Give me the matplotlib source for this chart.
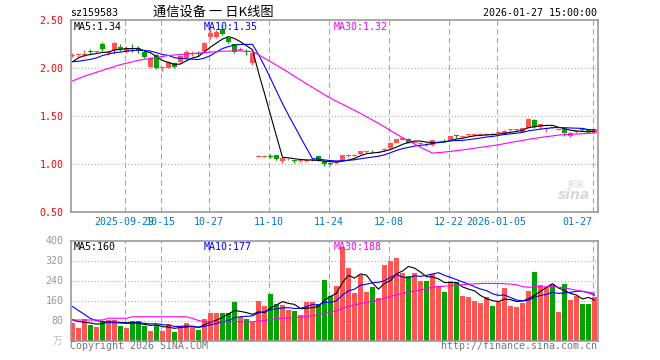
import numpy as np
import pandas as pd
import matplotlib
matplotlib.use("Agg")
import matplotlib.pyplot as plt

# ---------------- data ----------------
dates = [
    "2025-09-16", "2025-09-17", "2025-09-18", "2025-09-19", "2025-09-22", "2025-09-23", "2025-09-24",
    "2025-09-25", "2025-09-26", "2025-09-29", "2025-09-30",
    "2025-10-09", "2025-10-10", "2025-10-13", "2025-10-14", "2025-10-15", "2025-10-16", "2025-10-17",
    "2025-10-20", "2025-10-21", "2025-10-22", "2025-10-23", "2025-10-24", "2025-10-27", "2025-10-28",
    "2025-10-29", "2025-10-30", "2025-10-31",
    "2025-11-03", "2025-11-04", "2025-11-05", "2025-11-06", "2025-11-07", "2025-11-10", "2025-11-11",
    "2025-11-12", "2025-11-13", "2025-11-14", "2025-11-17", "2025-11-18", "2025-11-19", "2025-11-20",
    "2025-11-21", "2025-11-24", "2025-11-25", "2025-11-26", "2025-11-27", "2025-11-28",
    "2025-12-01", "2025-12-02", "2025-12-03", "2025-12-04", "2025-12-05", "2025-12-08", "2025-12-09",
    "2025-12-10", "2025-12-11", "2025-12-12", "2025-12-15", "2025-12-16", "2025-12-17", "2025-12-18",
    "2025-12-19", "2025-12-22", "2025-12-23", "2025-12-24", "2025-12-25", "2025-12-26", "2025-12-29",
    "2025-12-30", "2025-12-31",
    "2026-01-05", "2026-01-06", "2026-01-07", "2026-01-08", "2026-01-09", "2026-01-12", "2026-01-13",
    "2026-01-14", "2026-01-15", "2026-01-16", "2026-01-19", "2026-01-20", "2026-01-21", "2026-01-22",
    "2026-01-23", "2026-01-26", "2026-01-27",
]

opens = [
    2.125, 2.128, 2.130, 2.162, 2.158, 2.240, 2.148, 2.180, 2.210, 2.160,
    2.195, 2.190, 2.160, 2.010, 2.130, 1.995, 2.000, 2.050, 2.060, 2.100,
    2.140, 2.145, 2.170, 2.320, 2.320, 2.400, 2.310, 2.240, 2.185, 2.165,
    2.050, 1.072, 1.072, 1.075, 1.085, 1.030, 1.043, 1.032, 1.025, 1.025,
    1.038, 1.075, 1.025, 1.005, 1.008, 1.035, 1.082, 1.082, 1.095, 1.118,
    1.130, 1.113, 1.143, 1.157, 1.215, 1.250, 1.260, 1.218, 1.208, 1.202,
    1.190, 1.218, 1.245, 1.250, 1.287, 1.276, 1.294, 1.294, 1.301, 1.301,
    1.305, 1.322, 1.310, 1.348, 1.348, 1.330, 1.372, 1.453, 1.383, 1.364,
    1.378, 1.354, 1.358, 1.285, 1.328, 1.352, 1.356, 1.320,
]
closes = [
    2.130, 2.132, 2.145, 2.158, 2.162, 2.190, 2.152, 2.250, 2.190, 2.200,
    2.190, 2.170, 2.110, 2.100, 1.990, 2.000, 2.060, 2.010, 2.120, 2.160,
    2.145, 2.140, 2.260, 2.360, 2.370, 2.350, 2.270, 2.160, 2.190, 2.160,
    2.150, 1.076, 1.076, 1.070, 1.045, 1.058, 1.047, 1.028, 1.028, 1.028,
    1.042, 1.035, 0.990, 1.000, 1.012, 1.085, 1.086, 1.086, 1.130, 1.122,
    1.126, 1.117, 1.147, 1.215, 1.250, 1.268, 1.215, 1.222, 1.212, 1.198,
    1.243, 1.222, 1.241, 1.285, 1.283, 1.280, 1.298, 1.298, 1.305, 1.305,
    1.301, 1.326, 1.338, 1.352, 1.352, 1.366, 1.463, 1.376, 1.408, 1.368,
    1.374, 1.358, 1.313, 1.320, 1.332, 1.348, 1.330, 1.355,
]
highs = [
    2.150, 2.150, 2.180, 2.190, 2.175, 2.270, 2.170, 2.270, 2.240, 2.220,
    2.240, 2.220, 2.170, 2.110, 2.140, 2.010, 2.070, 2.060, 2.130, 2.180,
    2.170, 2.170, 2.270, 2.400, 2.390, 2.430, 2.320, 2.250, 2.210, 2.190,
    2.160, 1.085, 1.085, 1.095, 1.090, 1.060, 1.055, 1.040, 1.035, 1.035,
    1.050, 1.080, 1.030, 1.010, 1.030, 1.090, 1.100, 1.095, 1.135, 1.135,
    1.145, 1.125, 1.160, 1.220, 1.260, 1.280, 1.270, 1.235, 1.225, 1.215,
    1.250, 1.235, 1.260, 1.290, 1.300, 1.290, 1.310, 1.310, 1.315, 1.315,
    1.315, 1.335, 1.345, 1.360, 1.360, 1.375, 1.470, 1.460, 1.415, 1.380,
    1.385, 1.370, 1.365, 1.325, 1.340, 1.360, 1.360, 1.360,
]
lows = [
    2.110, 2.110, 2.110, 2.140, 2.150, 2.170, 2.130, 2.140, 2.170, 2.150,
    2.160, 2.150, 2.100, 2.000, 1.980, 1.960, 1.990, 2.000, 2.050, 2.090,
    2.120, 2.120, 2.160, 2.300, 2.310, 2.340, 2.260, 2.150, 2.170, 2.130,
    2.030, 1.065, 1.065, 1.055, 1.040, 1.010, 1.035, 1.010, 1.020, 1.020,
    1.030, 1.030, 0.970, 0.980, 1.000, 1.030, 1.070, 1.075, 1.090, 1.105,
    1.110, 1.105, 1.135, 1.150, 1.210, 1.245, 1.210, 1.210, 1.200, 1.185,
    1.180, 1.210, 1.230, 1.245, 1.270, 1.270, 1.285, 1.285, 1.295, 1.295,
    1.295, 1.315, 1.305, 1.340, 1.340, 1.325, 1.370, 1.370, 1.360, 1.330,
    1.365, 1.345, 1.290, 1.280, 1.320, 1.340, 1.325, 1.315,
]
volumes = [
    69, 52, 87, 63, 56, 80, 84, 84, 57, 52,
    77, 77, 57, 40, 63, 40, 67, 33, 60, 70,
    55, 44, 87, 111, 111, 111, 111, 156, 93, 87,
    76, 160, 140, 188, 147, 143, 124, 120, 104, 153,
    156, 148, 244, 180, 217, 373, 289, 189, 263, 193,
    213, 169, 304, 317, 329, 271, 260, 271, 237, 237,
    267, 220, 196, 240, 236, 180, 176, 160, 149, 173,
    140, 156, 209, 140, 136, 149, 200, 276, 224, 213,
    224, 113, 228, 164, 180, 145, 145, 173,
]

# moving-average values for the first bars (window not yet full)
ma5_head = [2.06, 2.10, 2.125, 2.135]
ma10_head = [2.06, 2.065, 2.075, 2.085, 2.10, 2.125, 2.14, 2.155, 2.16]
ma30_head = [1.86, 1.885, 1.91, 1.93, 1.95, 1.97, 1.99, 2.01, 2.03, 2.045,
             2.06, 2.075, 2.085, 2.095, 2.105, 2.115, 2.125, 2.13, 2.135, 2.14,
             2.145, 2.15, 2.155, 2.16, 2.165, 2.17, 2.17, 2.175, 2.175]
vma5_head = [83, 76, 73, 70]
vma10_head = [136, 120, 104, 88, 80, 76, 72, 71, 70]
vma30_head = [82, 82, 82, 82, 82, 82, 89, 89, 89, 89,
              95, 95, 95, 95, 95, 95, 95, 95, 95, 95,
              88, 80, 75, 75, 75, 75, 75, 75, 75]

tick_dates = ["2025-09-29", "2025-10-15", "2025-10-27", "2025-11-10", "2025-11-24",
              "2025-12-08", "2025-12-22", "2026-01-05", "2026-01-27"]
tick_labels = ["2025-09-29", "10-15", "10-27", "11-10", "11-24", "12-08", "12-22", "2026-01-05", "01-27"]

price_ticks = [0.50, 1.00, 1.50, 2.00, 2.50]
vol_ticks = [80, 160, 240, 320, 400]

title = "通信设备 一 日K线图"
code = "sz159583"
timestamp = "2026-01-27 15:00:00"
price_ma_text = ["MA5:1.34", "MA10:1.35", "MA30:1.32"]
vol_ma_text = ["MA5:160", "MA10:177", "MA30:188"]

# ---------------- computations ----------------
def moving(values, n, head):
    m = pd.Series(values, dtype=float).rolling(n).mean().to_numpy()
    m[:n - 1] = head
    return m

ma5 = moving(closes, 5, ma5_head)
ma10 = moving(closes, 10, ma10_head)
ma30 = moving(closes, 30, ma30_head)
vma5 = moving(volumes, 5, vma5_head)
vma10 = moving(volumes, 10, vma10_head)
vma30 = moving(volumes, 30, vma30_head)

o = np.array(opens); c = np.array(closes); h = np.array(highs); l = np.array(lows)
x = np.arange(len(dates))
RED = "#ff5555"
GREEN = "#00a300"
up = c >= o
cols = np.where(up, RED, GREEN)

# ---------------- figure ----------------
W, H = 660, 360
fig = plt.figure(figsize=(W / 100, H / 100), dpi=100, facecolor="white")
mono = "DejaVu Sans Mono"
cjk = ["Noto Sans CJK SC", "DejaVu Sans"]

def px_axes(x0, y0, x1, y1):
    return fig.add_axes([x0 / W, 1 - y1 / H, (x1 - x0) / W, (y1 - y0) / H])

def ftext(px, py, s, **kw):
    fig.text(px / W, 1 - py / H, s, **kw)

XL = (-0.333, 87.5)
BW = 5 / 6
tick_pos = [dates.index(d) - 0.333 for d in tick_dates]
BORDER = "#999999"
GRID = "#aaaaaa"

ax = px_axes(70.5, 19.5, 597.5, 211.5)
axv = px_axes(70.5, 240.5, 597.5, 340.5)

for a in (ax, axv):
    a.set_xlim(*XL)
    for s in a.spines.values():
        s.set_color(BORDER)
        s.set_linewidth(1.2)
    for tp in tick_pos[:-1]:
        a.axvline(tp, color=GRID, lw=0.8, ls=(0, (5, 3)), zorder=0)
    a.axvline(tick_pos[-1], color=GRID, lw=0.8, ls=(0, (5, 3)), zorder=0)
    a.tick_params(length=0)

# price panel
ax.set_ylim(0.5, 2.5)
for yv in price_ticks[1:-1]:
    ax.axhline(yv, color=GRID, lw=0.8, ls=(0, (1, 2)), zorder=0)

body_bottom = np.minimum(o, c)
body_h = np.maximum(np.abs(c - o), 0.009)
ax.vlines(x, l, h, colors=cols, lw=0.9, zorder=2)
ax.bar(x, body_h, bottom=body_bottom, width=BW, color=cols, linewidth=0, zorder=3)

ax.plot(x, ma5, color="black", lw=0.8, zorder=4)
ax.plot(x, ma10, color="#0000ff", lw=0.8, zorder=4)
ax.plot(x, ma30, color="#ff00ff", lw=0.8, zorder=4)

ax.set_yticks(price_ticks)
ax.set_yticklabels([f"{v:.2f}" for v in price_ticks], fontfamily=mono, fontsize=7.2)
for lab in ax.get_yticklabels():
    lab.set_color("#ff0000")
ax.tick_params(axis="y", pad=5)
ax.set_xticks(tick_pos)
ax.set_xticklabels(tick_labels, fontfamily=mono, fontsize=7.2, color="#0077cc")
ax.tick_params(axis="x", pad=4)
ax.get_xticklabels()[-1].set_ha("right")

# volume panel
axv.set_ylim(0, 400)
for yv in vol_ticks[:-1]:
    axv.axhline(yv, color=GRID, lw=0.8, ls=(0, (1, 2)), zorder=0)
vcols = np.where(up, RED, GREEN)
axv.bar(x, volumes, width=BW, color=vcols, linewidth=0, zorder=2)
axv.plot(x, vma5, color="black", lw=0.8, zorder=4)
axv.plot(x, vma10, color="#0000ff", lw=0.8, zorder=4)
axv.plot(x, vma30, color="#ff00ff", lw=0.8, zorder=4)
axv.set_yticks(vol_ticks)
axv.set_yticklabels([str(v) for v in vol_ticks], fontfamily=mono, fontsize=7.2, color="#999999")
axv.tick_params(axis="y", pad=5)
axv.set_xticks([])

# texts
ftext(213, 12, title, family=cjk, fontsize=9.5, ha="center", va="center", color="black")
ftext(70, 13, code, family=mono, fontsize=7.2, ha="left", va="center", color="black")
ftext(597, 13, timestamp, family=mono, fontsize=7.2, ha="right", va="center", color="black")

ma_cols = ["black", "#0000ff", "#ff00ff"]
ma_x = [74, 204, 334]
for s, cc, xx in zip(price_ma_text, ma_cols, ma_x):
    ftext(xx, 27, s, family=mono, fontsize=7.2, ha="left", va="center", color=cc)
for s, cc, xx in zip(vol_ma_text, ma_cols, ma_x):
    ftext(xx, 246.5, s, family=mono, fontsize=7.2, ha="left", va="center", color=cc)

ftext(70, 346, "Copyright 2026 SINA.COM", family=mono, fontsize=7.2, ha="left", va="center", color="#777777")
ftext(597, 346, "http://finance.sina.com.cn", family=mono, fontsize=7.2, ha="right", va="center", color="#777777")
ftext(62, 341, "万", family=cjk, fontsize=7, ha="right", va="center", color="#bbbbbb")
ftext(590, 195, "sina", family="DejaVu Sans", fontsize=10, fontweight="bold", style="italic",
      ha="right", va="center", color="#d8d8d8")
ftext(584, 184, "新浪", family=cjk, fontsize=6, ha="right", va="center", color="#d8d8d8")

fig.savefig("out.png", dpi=100, facecolor="white")
